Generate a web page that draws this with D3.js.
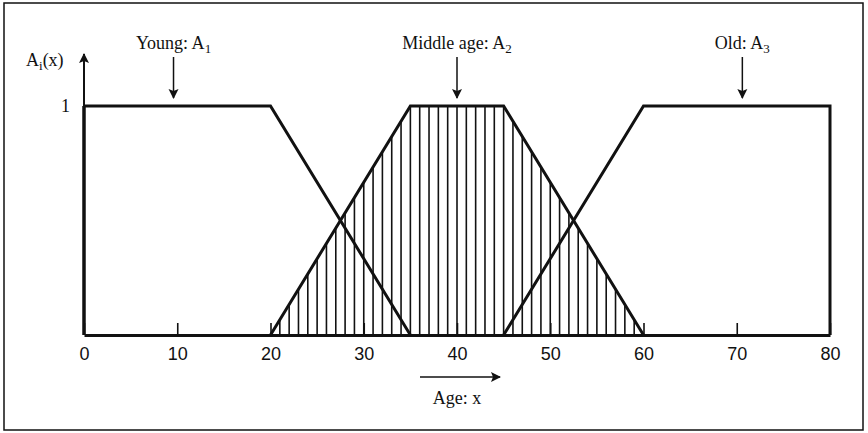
<!DOCTYPE html>
<html>
<head>
<meta charset="utf-8">
<script src="https://cdn.jsdelivr.net/npm/d3@7/dist/d3.min.js"></script>
<style>
  body { margin: 0; background: #fff; }
  svg { display: block; }
</style>
</head>
<body>
<svg id="chart"></svg>
<script>
// membership functions (age, grade)
var youngX = [0, 20, 35];
var youngY = [1, 1, 0];
var middleX = [20, 35, 45, 60];
var middleY = [0, 1, 1, 0];
var oldX = [45, 60, 80, 80];
var oldY = [0, 1, 1, 0];

// set labels and where their arrows point
var setNames = ["Young: A", "Middle age: A", "Old: A"];
var setSubs = ["1", "2", "3"];
var setArrowAt = [9.6, 40, 70.6];

var xTicks = [0, 10, 20, 30, 40, 50, 60, 70, 80];
var yTicks = [1];

// hatch lines inside the middle-age set, one per year
var hatchAges = [21, 22, 23, 24, 25, 26, 27, 28, 29, 30, 31, 32, 33, 34, 35, 36, 37, 38, 39, 40,
                 41, 42, 43, 44, 45, 46, 47, 48, 49, 50, 51, 52, 53, 54, 55, 56, 57, 58, 59];

const width = 868;
const height = 433;

const svg = d3.select('#chart')
    .attr('width', width)
    .attr('height', height);

// frame around the figure
svg.append('rect')
    .attr('x', 4).attr('y', 3)
    .attr('width', 859).attr('height', 427)
    .attr('fill', 'none')
    .attr('stroke', '#111')
    .attr('stroke-width', 1.5);

const x = d3.scaleLinear().domain([0, 80]).range([84, 830]);
const y = d3.scaleLinear().domain([0, 1]).range([335, 106]);

const serif = '"Liberation Serif", "DejaVu Serif", serif';

svg.append('defs').append('marker')
    .attr('id', 'arrow')
    .attr('viewBox', '0 0 10 10')
    .attr('refX', 9).attr('refY', 5)
    .attr('markerUnits', 'userSpaceOnUse')
    .attr('markerWidth', 10).attr('markerHeight', 14)
    .attr('orient', 'auto')
    .append('path')
    .attr('d', 'M0,0 L10,5 L0,10 L2,5 Z')
    .attr('fill', '#111');

// hatching
const middleGrade = d3.scaleLinear().domain(middleX).range(middleY).clamp(true);
svg.append('g').selectAll('line')
    .data(hatchAges)
    .enter()
    .append('line')
    .attr('x1', d => x(d)).attr('x2', d => x(d))
    .attr('y1', y(0))
    .attr('y2', d => y(middleGrade(d)))
    .attr('stroke', '#111')
    .attr('stroke-width', 1.6);

// x axis
const xAxis = svg.append('g')
    .attr('transform', 'translate(0,' + y(0) + ')')
    .call(d3.axisBottom(x).tickValues(xTicks).tickSizeInner(-12).tickSizeOuter(0).tickPadding(12));
xAxis.select('.domain').attr('stroke', '#111').attr('stroke-width', 3);
xAxis.selectAll('.tick line').attr('stroke', '#111').attr('stroke-width', 1.6);
xAxis.selectAll('.tick text')
    .style('fill', '#111')
    .style('font-family', '"Liberation Sans", Arial, sans-serif')
    .style('font-size', '18px');

// y axis with arrow
const yAxis = svg.append('g')
    .attr('transform', 'translate(' + x(0) + ',0)')
    .call(d3.axisLeft(y).tickValues(yTicks).tickSize(0).tickPadding(14).tickFormat(d3.format('d')));
yAxis.select('.domain').remove();
yAxis.selectAll('.tick text')
    .style('fill', '#111')
    .style('font-family', serif)
    .style('font-size', '18px');
svg.append('line')
    .attr('x1', x(0)).attr('x2', x(0))
    .attr('y1', y(1)).attr('y2', 54)
    .attr('stroke', '#111')
    .attr('stroke-width', 2)
    .attr('marker-end', 'url(#arrow)');

const ylab = svg.append('text')
    .attr('x', 26).attr('y', 66)
    .style('font-family', serif)
    .style('font-size', '18px')
    .style('fill', '#111');
ylab.append('tspan').text('A');
ylab.append('tspan').attr('dy', 4).style('font-size', '13px').text('i');
ylab.append('tspan').attr('dy', -4).text('(x)');

// membership curves
const line = d3.line()
    .x(d => x(d[0]))
    .y(d => y(d[1]));

// young also closes down the left edge to the axis
svg.append('line')
    .attr('x1', x(0)).attr('x2', x(0))
    .attr('y1', y(0)).attr('y2', y(1))
    .attr('stroke', '#111')
    .attr('stroke-width', 3.5);

[[youngX, youngY], [middleX, middleY], [oldX, oldY]].forEach(function(s) {
    svg.append('path')
        .datum(d3.zip(s[0], s[1]))
        .attr('d', line)
        .attr('fill', 'none')
        .attr('stroke', '#111')
        .attr('stroke-width', 3)
        .attr('stroke-linejoin', 'miter');
});

// set labels with arrows
setNames.forEach(function(name, i) {
    const cx = x(setArrowAt[i]);
    const t = svg.append('text')
        .attr('x', cx).attr('y', 49)
        .attr('text-anchor', 'middle')
        .style('font-family', serif)
        .style('font-size', '18px')
        .style('fill', '#111');
    t.append('tspan').text(name);
    t.append('tspan').attr('dy', 4).style('font-size', '13px').text(setSubs[i]);
    svg.append('line')
        .attr('x1', cx).attr('x2', cx)
        .attr('y1', 57).attr('y2', 98)
        .attr('stroke', '#111')
        .attr('stroke-width', 1.5)
        .attr('marker-end', 'url(#arrow)');
});

// x axis caption
svg.append('line')
    .attr('x1', 420).attr('x2', 500)
    .attr('y1', 377).attr('y2', 377)
    .attr('stroke', '#111')
    .attr('stroke-width', 1.5)
    .attr('marker-end', 'url(#arrow)');
svg.append('text')
    .attr('x', 457).attr('y', 404)
    .attr('text-anchor', 'middle')
    .style('font-family', serif)
    .style('font-size', '18px')
    .style('fill', '#111')
    .text('Age: x');
</script>
</body>
</html>
